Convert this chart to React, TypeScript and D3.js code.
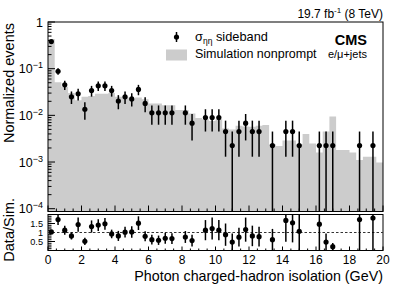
import React, { useRef, useEffect } from 'react';
import * as d3 from 'd3';

// bins of 0.4 GeV from 0 to 20
const binWidth = 0.4;
const nBins = 50;

// simulation nonprompt (normalized)
const simValues = [
  0.43, 0.051, 0.041, 0.030, 0.021, 0.025, 0.026, 0.029, 0.029, 0.030,
  0.025, 0.025, 0.023, 0.024, 0.022, 0.018, 0.018, 0.0165, 0.0165, 0.013,
  0.013, 0.011, 0.0088, 0.0082, 0.0076, 0.0082, 0.0052, 0.0050, 0.0060, 0.0058,
  0.0057, 0.0060, 0.0062, 0.0024, 0.0022, 0.0029, 0.0029, 0.0024, 0.0040, 0.0025,
  0.0016, 0.0045, 0.0095, 0.0018, 0.0018, 0.0016, 0.0011, 0.0013, 0.0013, 0.00098,
];

// sigma_ietaieta sideband data (null = empty bin)
const dataValues = [
  0.38, 0.088, 0.045, 0.025, 0.029, 0.0135, 0.034, 0.043, 0.043, 0.034,
  0.0203, 0.025, 0.0225, 0.036, 0.018, 0.0113, 0.0113, 0.0113, 0.0113, null,
  0.0113, 0.0068, null, 0.009, 0.009, 0.009, 0.0045, 0.00225, 0.0045, 0.0068,
  0.0045, 0.0045, null, 0.00225, null, 0.0045, 0.0045, 0.00225, null, null,
  0.00225, 0.00225, 0.00225, null, null, null, 0.00225, null, 0.00225, null,
];
const dataErrors = [
  0.03, 0.014, 0.010, 0.0075, 0.0081, 0.0055, 0.0088, 0.0098, 0.0098, 0.0088,
  0.0068, 0.0075, 0.0071, 0.009, 0.0064, 0.005, 0.005, 0.005, 0.005, null,
  0.005, 0.0039, null, 0.0045, 0.0045, 0.0045, 0.0032, 0.00225, 0.0032, 0.0039,
  0.0032, 0.0032, null, 0.00225, null, 0.0032, 0.0032, 0.00225, null, null,
  0.00225, 0.00225, 0.00225, null, null, null, 0.00225, null, 0.00225, null,
];

// Data/Sim. ratio
const ratioValues = [
  1.03, 1.72, 1.13, 0.81, 1.44, 0.51, 1.33, 1.41, 1.48, 0.92,
  0.81, 1.02, 1.03, 1.52, 0.79, 0.60, 0.57, 0.68, 0.66, null,
  0.75, 0.55, null, 1.13, 1.22, 1.13, 0.88, 0.47, 0.74, 1.16,
  0.81, 0.77, null, 0.60, null, 1.67, 1.54, 1.07, null, null,
  1.46, 0.47, 0.21, null, null, null, 1.72, null, 1.80, null,
];
const ratioErrors = [
  0.08, 0.3, 0.25, 0.2, 0.4, 0.2, 0.34, 0.32, 0.33, 0.24,
  0.28, 0.3, 0.32, 0.38, 0.28, 0.27, 0.26, 0.3, 0.3, null,
  0.33, 0.33, null, 0.56, 0.61, 0.56, 0.62, 0.47, 0.52, 0.67,
  0.57, 0.55, null, 0.6, null, 1.18, 1.09, 1.07, null, null,
  1.46, 0.47, 0.21, null, null, null, 1.72, null, 1.8, null,
];

const xTicks = [0, 2, 4, 6, 8, 10, 12, 14, 16, 18, 20];
const yExponents = [0, -1, -2, -3, -4];
const ratioTicks = ['0.5', '1', '1.5'];

const FONT = 'Liberation Sans, Arial, Helvetica, sans-serif';

const App = () => {
  const svgRef = useRef<SVGSVGElement | null>(null);

  useEffect(() => {
    if (!svgRef.current) return;
    const svg = d3.select(svgRef.current);
    svg.selectAll('*').remove();

    const left = 48, right = 383;
    const mainTop = 22, mainBottom = 211.5;
    const ratTop = 214.5, ratBottom = 250.5;

    const x = d3.scaleLinear().domain([0, 20]).range([left, right]);
    const yMin = Math.pow(10, -4.06);
    const y = d3.scaleLog().domain([yMin, 1]).range([mainBottom, mainTop]);
    const yr = d3.scaleLinear().domain([0, 2]).range([ratBottom, ratTop]);

    const bins = d3.range(nBins).map(i => ({
      x0: i * binWidth,
      xc: i * binWidth + binWidth / 2,
      sim: simValues[i],
      data: dataValues[i],
      err: dataErrors[i],
      ratio: ratioValues[i],
      rerr: ratioErrors[i],
    }));

    // histogram fill
    const histPts = bins.map(b => ({ x0: b.x0, v: b.sim }));
    histPts.push({ x0: 20, v: simValues[nBins - 1] });
    const area = d3.area<{ x0: number; v: number }>()
      .x(d => x(d.x0))
      .y0(mainBottom)
      .y1(d => y(d.v))
      .curve(d3.curveStepAfter);
    svg.append('path')
      .datum(histPts)
      .attr('d', area)
      .attr('fill', '#cccccc');

    // main panel y ticks
    const gAx = svg.append('g').attr('stroke', '#000').attr('stroke-width', 1);
    yExponents.forEach(e => {
      const yy = y(Math.pow(10, e));
      gAx.append('line').attr('x1', left).attr('x2', left + 7).attr('y1', yy).attr('y2', yy);
      if (e > -4) {
        for (let m = 2; m <= 9; m++) {
          const ym = y(m * Math.pow(10, e - 1));
          gAx.append('line').attr('x1', left).attr('x2', left + 3.5).attr('y1', ym).attr('y2', ym);
        }
      }
    });
    // x ticks on both panels
    d3.range(0, 20.01, 0.5).forEach(t => {
      const major = Math.abs(t % 2) < 1e-6;
      const xx = x(t);
      gAx.append('line').attr('x1', xx).attr('x2', xx)
        .attr('y1', mainBottom).attr('y2', mainBottom - (major ? 6 : 3));
      gAx.append('line').attr('x1', xx).attr('x2', xx)
        .attr('y1', ratBottom).attr('y2', ratBottom - (major ? 4 : 2));
    });
    // ratio y ticks
    d3.range(0, 2.01, 0.1).forEach(t => {
      const major = Math.abs(t * 2 - Math.round(t * 2)) < 1e-6;
      gAx.append('line').attr('x1', left).attr('x2', left + (major ? 7 : 3.5))
        .attr('y1', yr(t)).attr('y2', yr(t));
    });

    // frames
    svg.append('rect').attr('x', left).attr('y', mainTop)
      .attr('width', right - left).attr('height', mainBottom - mainTop)
      .attr('fill', 'none').attr('stroke', '#000').attr('stroke-width', 1);
    svg.append('rect').attr('x', left).attr('y', ratTop)
      .attr('width', right - left).attr('height', ratBottom - ratTop)
      .attr('fill', 'none').attr('stroke', '#000').attr('stroke-width', 1);

    // dashed line at 1
    svg.append('line').attr('x1', left).attr('x2', right)
      .attr('y1', yr(1)).attr('y2', yr(1))
      .attr('stroke', '#333').attr('stroke-width', 1).attr('stroke-dasharray', '2.5,2');

    // data points
    const pts = bins.filter(b => b.data !== null);
    const gd = svg.append('g');
    pts.forEach(b => {
      const v = b.data as number, e = b.err as number;
      gd.append('line')
        .attr('x1', x(b.xc)).attr('x2', x(b.xc))
        .attr('y1', y(Math.max(v - e, yMin))).attr('y2', y(Math.min(v + e, 1)))
        .attr('stroke', '#000').attr('stroke-width', 1.5);
      gd.append('circle').attr('cx', x(b.xc)).attr('cy', y(v)).attr('r', 2.6).attr('fill', '#000');
    });
    const rpts = bins.filter(b => b.ratio !== null);
    rpts.forEach(b => {
      const v = b.ratio as number, e = b.rerr as number;
      gd.append('line')
        .attr('x1', x(b.xc)).attr('x2', x(b.xc))
        .attr('y1', yr(Math.max(v - e, 0))).attr('y2', yr(Math.min(v + e, 2)))
        .attr('stroke', '#000').attr('stroke-width', 1.5);
      gd.append('circle').attr('cx', x(b.xc)).attr('cy', yr(v)).attr('r', 2.6).attr('fill', '#000');
    });

    const txt = svg.append('g').attr('font-family', FONT).attr('fill', '#000');

    // y tick labels (main)
    yExponents.forEach(e => {
      const yy = y(Math.pow(10, e));
      const t = txt.append('text').attr('x', 43).attr('y', yy + 4.5)
        .attr('text-anchor', 'end').attr('font-size', 12.5);
      if (e === 0) {
        t.text('1');
      } else {
        t.append('tspan').text('10');
        t.append('tspan').attr('dy', -5).attr('font-size', 9).text('\u2212' + (-e));
      }
    });
    // ratio tick labels
    ratioTicks.forEach(s => {
      txt.append('text').attr('x', 43).attr('y', yr(+s) + 3.3)
        .attr('text-anchor', 'end').attr('font-size', 9.2).text(s);
    });
    // x tick labels
    xTicks.forEach(t => {
      txt.append('text').attr('x', x(t)).attr('y', 263.5)
        .attr('text-anchor', 'middle').attr('font-size', 12).text(t);
    });

    // axis titles
    txt.append('text').attr('x', right).attr('y', 280.5)
      .attr('text-anchor', 'end').attr('font-size', 14.3)
      .text('Photon charged-hadron isolation (GeV)');
    txt.append('text').attr('transform', 'translate(13.5,23) rotate(-90)')
      .attr('text-anchor', 'end').attr('font-size', 14.5)
      .text('Normalized events');
    txt.append('text').attr('transform', 'translate(13.5,198) rotate(-90)')
      .attr('text-anchor', 'end').attr('font-size', 14.5)
      .text('Data/Sim.');

    // lumi label
    const lumi = txt.append('text').attr('x', right).attr('y', 17.5)
      .attr('text-anchor', 'end').attr('font-size', 12);
    lumi.append('tspan').text('19.7 fb');
    lumi.append('tspan').attr('dy', -4.5).attr('font-size', 8).text('-1');
    lumi.append('tspan').attr('dy', 4.5).text(' (8 TeV)');

    // CMS label
    txt.append('text').attr('x', 367).attr('y', 45).attr('text-anchor', 'end')
      .attr('font-size', 14.5).attr('font-weight', 'bold').text('CMS');
    txt.append('text').attr('x', 367).attr('y', 58).attr('text-anchor', 'end')
      .attr('font-size', 11).text('e/\u03bc+jets');

    // legend
    svg.append('line').attr('x1', 176.5).attr('x2', 176.5).attr('y1', 32).attr('y2', 42)
      .attr('stroke', '#000').attr('stroke-width', 1.5);
    svg.append('circle').attr('cx', 176.5).attr('cy', 37).attr('r', 2.6).attr('fill', '#000');
    const l1 = txt.append('text').attr('x', 195).attr('y', 40.5).attr('font-size', 12.8);
    l1.append('tspan').text('\u03c3');
    l1.append('tspan').attr('dy', 3).attr('font-size', 8.5).text('\u03b7\u03b7');
    l1.append('tspan').attr('dy', -3).text(' sideband');
    svg.append('rect').attr('x', 166).attr('y', 49.5).attr('width', 21).attr('height', 11)
      .attr('fill', '#cccccc');
    txt.append('text').attr('x', 195).attr('y', 58).attr('font-size', 12.5)
      .text('Simulation nonprompt');
  }, []);

  return (
    <svg
      ref={svgRef}
      width={399}
      height={286}
      style={{ position: 'fixed', left: 0, top: 0, display: 'block', background: '#fff' }}
    />
  );
};

export default App;
